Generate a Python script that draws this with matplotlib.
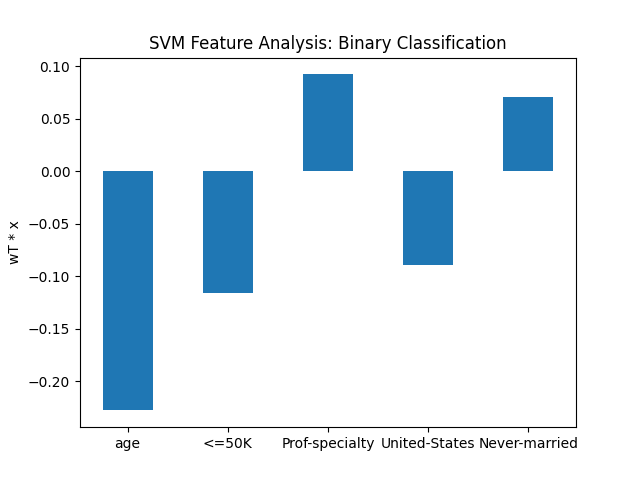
import matplotlib
matplotlib.use("Agg")
import matplotlib.pyplot as plt

features = ["age", "<=50K", "Prof-specialty", "United-States", "Never-married"]
weights = [-0.2276, -0.116, 0.0924, -0.0895, 0.0705]

fig, ax = plt.subplots(figsize=(6.4, 4.8), dpi=100)
ax.bar(range(len(features)), weights, width=0.5, color="#1f77b4")
ax.set_xticks(range(len(features)))
ax.set_xticklabels(features)
ax.set_ylabel("wT * x")
ax.set_title("SVM Feature Analysis: Binary Classification")
fig.savefig("out.png")
